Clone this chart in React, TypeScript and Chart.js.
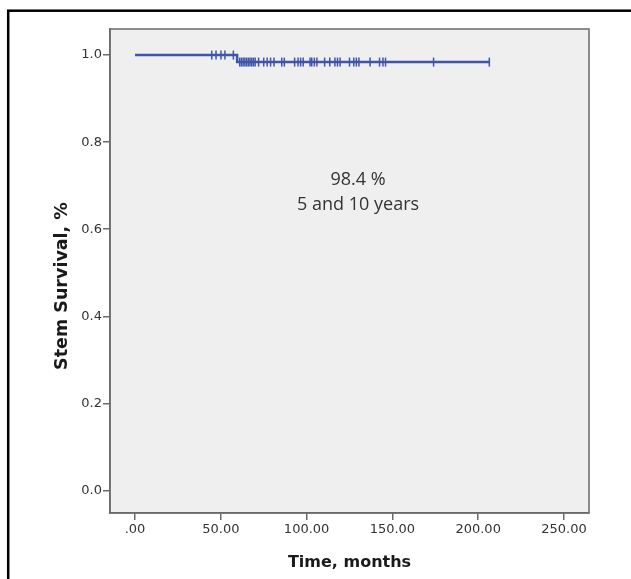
import React, { useEffect, useRef } from "react";
import { Chart, registerables } from "chart.js";

Chart.register(...registerables);

const EVENT_TIME = 59.5;
const SURV_START = 1.0;
const SURV_AFTER = 0.984;
const LAST_TIME = 206.5;
const CENSOR_TIMES = [
  44.7, 47.2, 50.1, 52.4, 57.3,
  61, 62, 63, 64, 65, 66, 67, 68, 69, 70, 72, 75, 77, 79, 81,
  85.5, 87, 93, 95, 96.5, 98, 102, 103, 104.5, 106, 110.5, 113.5, 116.5, 118, 119.5,
  125, 127.5, 129, 130.5, 137, 142.5, 144.5, 146, 174, 206.5,
];
const X_TICKS = [0, 50, 100, 150, 200, 250];
const Y_TICKS = [0, 0.2, 0.4, 0.6, 0.8, 1.0];
const X_TITLE = "Time, months";
const Y_TITLE = "Stem Survival, %";
const NOTE_LINES = ["98.4 %", "5 and 10 years"];

const BLUE = "#3f55a8";
const TEXT = "#333333";
const AXIS = "#6a6a6a";

const decorPlugin = {
  id: "decor",
  beforeDraw(chart: any) {
    const { ctx, chartArea: a } = chart;
    ctx.save();
    ctx.fillStyle = "#ffffff";
    ctx.fillRect(0, 0, chart.width, chart.height);
    ctx.fillStyle = "#efefef";
    ctx.fillRect(a.left, a.top, a.right - a.left, a.bottom - a.top);
    ctx.restore();
  },
  afterDraw(chart: any) {
    const { ctx, chartArea: a } = chart;
    ctx.save();
    ctx.strokeStyle = AXIS;
    ctx.lineWidth = 1.5;
    ctx.strokeRect(a.left, a.top, a.right - a.left, a.bottom - a.top);
    // outer frame
    ctx.strokeStyle = "#000";
    ctx.lineWidth = 2.5;
    ctx.strokeRect(8.2, 10.7, 900, 900);
    // axis titles
    ctx.fillStyle = "#1a1a1a";
    ctx.textAlign = "center";
    ctx.textBaseline = "middle";
    ctx.font = "bold 16px 'DejaVu Sans', sans-serif";
    ctx.fillText(X_TITLE, (a.left + a.right) / 2, 563);
    ctx.save();
    ctx.translate(62, 286);
    ctx.rotate(-Math.PI / 2);
    ctx.font = "bold 17.5px 'DejaVu Sans', sans-serif";
    ctx.fillText(Y_TITLE, 0, 0);
    ctx.restore();
    // annotation
    ctx.fillStyle = TEXT;
    ctx.font = "18px 'Open Sans', sans-serif";
    const xs = chart.scales.x;
    const cx = xs.getPixelForValue(130);
    ctx.fillText(NOTE_LINES[0], cx, 180);
    ctx.fillText(NOTE_LINES[1], cx, 205);
    ctx.restore();
  },
};

export default function App() {
  const ref = useRef<HTMLCanvasElement | null>(null);
  useEffect(() => {
    const lineData = [
      { x: 0, y: SURV_START },
      { x: EVENT_TIME, y: SURV_START },
      { x: EVENT_TIME, y: SURV_AFTER },
      { x: LAST_TIME, y: SURV_AFTER },
    ];
    const censorData = CENSOR_TIMES.map((t) => ({
      x: t,
      y: t < EVENT_TIME ? SURV_START : SURV_AFTER,
    }));
    const chart = new Chart(ref.current as HTMLCanvasElement, {
      type: "scatter",
      data: {
        datasets: [
          {
            data: lineData,
            showLine: true,
            borderColor: BLUE,
            borderWidth: 2.5,
            pointRadius: 0,
            fill: false,
          },
          {
            data: censorData,
            showLine: false,
            pointStyle: "line",
            rotation: 90,
            pointRadius: 4.5,
            borderColor: BLUE,
            backgroundColor: BLUE,
            pointBorderWidth: 1.5,
          } as any,
        ],
      },
      options: {
        responsive: false,
        animation: false,
        events: [],
        layout: { padding: { left: 0, top: 29, right: 42, bottom: 0 } },
        plugins: { legend: { display: false }, tooltip: { enabled: false } },
        scales: {
          x: {
            type: "linear",
            min: -14.6,
            max: 264.6,
            afterFit: (s: any) => {
              s.height = 66;
            },
            afterBuildTicks: (s: any) => {
              s.ticks = X_TICKS.map((v) => ({ value: v }));
            },
            grid: {
              drawOnChartArea: false,
              drawTicks: true,
              tickLength: 7,
              color: AXIS,
              lineWidth: 1.5,
            },
            border: { display: true, color: AXIS, width: 1.5 },
            ticks: {
              padding: 2,
              color: TEXT,
              font: { family: "'DejaVu Sans', sans-serif", size: 13 },
              callback: (v: any) => (v === 0 ? ".00" : Number(v).toFixed(2)),
            },
          },
          y: {
            type: "linear",
            min: -0.052,
            max: 1.06,
            afterFit: (s: any) => {
              s.width = 110;
            },
            afterBuildTicks: (s: any) => {
              s.ticks = Y_TICKS.map((v) => ({ value: v }));
            },
            grid: {
              drawOnChartArea: false,
              drawTicks: true,
              tickLength: 7,
              color: AXIS,
              lineWidth: 1.5,
            },
            border: { display: true, color: AXIS, width: 1.5 },
            ticks: {
              padding: 1,
              color: TEXT,
              font: { family: "'DejaVu Sans', sans-serif", size: 13 },
              callback: (v: any) => Number(v).toFixed(1),
            },
          },
        },
      },
      plugins: [decorPlugin],
    });
    return () => chart.destroy();
  }, []);
  return (
    <div style={{ position: "fixed", left: 0, top: 0, width: 631, height: 579, background: "#fff" }}>
      <canvas ref={ref} width={631} height={579} style={{ display: "block" }} />
    </div>
  );
}
